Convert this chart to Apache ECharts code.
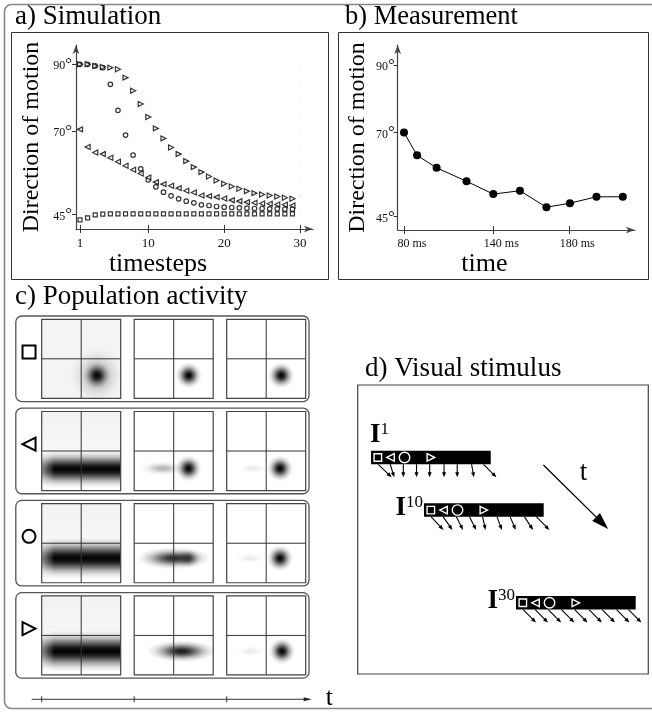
<!DOCTYPE html>
<html><head><meta charset="utf-8">
<script src="https://cdn.jsdelivr.net/npm/echarts@6/dist/echarts.min.js"></script>
<style>html,body{margin:0;padding:0;background:#fff}#c{width:652px;height:713px}</style>
</head><body><div id="c"></div>
<script>
const SERIF = "'Liberation Serif','DejaVu Serif','Times New Roman',serif";

// ---------- a) Simulation ----------
const timesteps = [1,2,3,4,5,6,7,8,9,10,11,12,13,14,15,16,17,18,19,20,21,22,23,24,25,26,27,28,29];
const simSquare   = [43.4,44.0,44.9,45.1,45.2,45.2,45.2,45.2,45.2,45.2,45.2,45.2,45.2,45.2,45.2,45.2,45.2,45.2,45.2,45.2,45.2,45.2,45.2,45.2,45.2,45.2,45.2,45.2,45.2];
const simLeftTri  = [70.5,65.2,63.6,63.1,62.0,60.8,59.6,58.4,57.3,56.1,54.7,54.1,53.6,52.9,52.1,51.6,50.7,50.5,50.2,49.8,49.3,49.0,48.7,48.5,48.3,48.2,48.0,47.9,47.7];
const simCircle   = [90.0,90.0,89.5,89.0,84.0,76.2,68.8,62.8,58.7,55.4,53.3,51.7,50.6,49.7,49.0,48.5,47.9,47.7,47.4,47.2,47.1,47.0,46.9,46.8,46.8,46.7,46.7,46.6,46.6];
const simRightTri = [90.0,90.0,89.5,89.2,89.0,88.5,86.0,82.1,78.1,74.2,70.8,67.8,65.1,63.1,61.0,59.2,57.7,56.4,55.2,54.2,53.4,52.7,52.0,51.4,51.0,50.7,50.4,50.0,49.7];
const simXTicks = [1,10,20,30];
const angleTicks = [45,70,90];

// ---------- b) Measurement ----------
const measTime  = [80,88.8,101.9,122,140,157.9,175.7,191.5,209.3,227];
const measAngle = [70,63.2,59.5,55.5,51.7,52.7,47.8,49.0,50.9,50.9];
const measTickValues = [80,140,191];
const measTickLabels = ['80','140','180'];

// ---------- c) Population activity ----------
// blob components per cell: [kind, cx, cy, rx, ry, peak]  (cell fractions; 'e' ellipse, 'b' horizontal band)
const activitySquare = [
  [['e',0.70,0.71,0.34,0.36,0.30],['e',0.70,0.71,0.17,0.17,1]],
  [['e',0.69,0.71,0.165,0.165,1]],
  [['e',0.69,0.71,0.165,0.165,1]]
];
const activityLeftTri = [
  [['b',0,0.73,0,0.24,1]],
  [['e',0.36,0.72,0.28,0.09,0.30],['e',0.687,0.72,0.165,0.165,1]],
  [['e',0.33,0.72,0.20,0.07,0.08],['e',0.675,0.72,0.165,0.165,1]]
];
const activityCircle = [
  [['b',0,0.69,0,0.26,1]],
  [['e',0.50,0.69,0.47,0.14,0.85],['e',0.685,0.69,0.15,0.12,0.6]],
  [['e',0.30,0.69,0.20,0.07,0.08],['e',0.675,0.69,0.165,0.165,1]]
];
const activityRightTri = [
  [['b',0,0.70,0,0.26,1]],
  [['e',0.60,0.70,0.44,0.14,0.9]],
  [['e',0.30,0.70,0.20,0.07,0.08],['e',0.70,0.70,0.165,0.165,1]]
];
const activityTint = [0.045,0.05,0.05,0.05];   // light grey of first column
const featureShapes = ['square','leftTri','circle','rightTri'];
const timeTicks = [0,1,2];

// ---------- d) Visual stimulus ----------
const stimFrames = ['1','10','30'];
const barLeft = [4.58,22.81,54.47];
const barTop  = [22.73,40.93,73.01];
const featurePos = [0.057,0.163,0.28,0.50];
const arrowPos = [0.06,0.16,0.27,0.38,0.49,0.61,0.72,0.84,0.94];
const arrowDx = [
  [4.6,1.4,0,0,0,0,0,0.8,4.4],
  [4.2,3.2,2.3,2.3,1.0,1.7,1.9,2.9,4.4],
  [4.4,4.4,4.4,4.4,4.4,4.4,4.4,4.4,4.4]
];
const arrowDy = 4.5;
const timeArrow = [[63.9,27.7],[86.2,49.8]];
const timeArrowLabel = [77.7,30.5];

const chart = echarts.init(document.getElementById('c'), null, {renderer:'canvas'});

function alphaStops(a){
  const p=[1,0.88,0.6,0.3,0.1,0];
  return [0,0.2,0.4,0.6,0.8,1].map((t,i)=>({offset:t,color:'rgba(0,0,0,'+(a*p[i]).toFixed(3)+')'}));
}
function bandStops(a){
  const offs=[0,0.1,0.2,0.3,0.4,0.5,0.6,0.7,0.8,0.9,1];
  const p=[0,0.1,0.3,0.6,0.88,1,0.88,0.6,0.3,0.1,0];
  return offs.map((t,i)=>({offset:t,color:'rgba(0,0,0,'+(a*p[i]).toFixed(3)+')'}));
}
function arrowHead(x1,y1,x2,y2,len,wid){
  const dx=x2-x1, dy=y2-y1, L=Math.hypot(dx,dy), ux=dx/L, uy=dy/L;
  const bx=x2-ux*len, by=y2-uy*len;
  return [[x2,y2],[bx-uy*wid/2,by+ux*wid/2],[bx+uy*wid/2,by-ux*wid/2]];
}
function featureShape(kind,cx,cy,s,color,lw){
  const h=s/2;
  if(kind==='square') return {type:'rect',shape:{x:cx-h,y:cy-h,width:s,height:s},style:{fill:'none',stroke:color,lineWidth:lw}};
  if(kind==='circle') return {type:'circle',shape:{cx:cx,cy:cy,r:h},style:{fill:'none',stroke:color,lineWidth:lw}};
  if(kind==='leftTri') return {type:'polygon',shape:{points:[[cx-h,cy],[cx+h,cy-h],[cx+h,cy+h]]},style:{fill:'none',stroke:color,lineWidth:lw}};
  return {type:'polygon',shape:{points:[[cx+h,cy],[cx-h,cy-h],[cx-h,cy+h]]},style:{fill:'none',stroke:color,lineWidth:lw}};
}

const activityRows=[activitySquare,activityLeftTri,activityCircle,activityRightTri];

function renderActivity(params, api){
  const r = api.value(0);
  const ch = [];
  const f0 = api.coord([-0.28, r]), f1 = api.coord([2.89, r+0.928]);
  ch.push({type:'rect',shape:{x:f0[0],y:f0[1],width:f1[0]-f0[0],height:f1[1]-f0[1],r:6},style:{fill:'none',stroke:'#555',lineWidth:1.3}});
  const sp = api.coord([-0.137, r+0.39]);
  ch.push(featureShape(featureShapes[r],sp[0],sp[1],13,'#000',2));
  for(let c=0;c<3;c++){
    const a = api.coord([c, r+0.036]), b = api.coord([c+0.854, r+0.893]);
    const w=b[0]-a[0], h=b[1]-a[1];
    if(c===0){
      const tint = activityTint[r];
      if(r===0) ch.push({type:'rect',shape:{x:a[0],y:a[1],width:w,height:h},style:{fill:'rgba(0,0,0,'+tint+')'}});
      else ch.push({type:'rect',shape:{x:a[0],y:a[1],width:w,height:h/2},style:{fill:new echarts.graphic.LinearGradient(0,0,0,1,[{offset:0,color:'rgba(0,0,0,'+tint+')'},{offset:1,color:'rgba(0,0,0,'+(tint*0.6)+')'}])}});
    }
    activityRows[r][c].forEach(comp=>{
      const [kind,cx,cy,rx,ry,pk]=comp;
      if(kind==='b'){
        const y0=a[1]+(cy-ry)*h, y1=a[1]+(cy+ry)*h;
        ch.push({type:'rect',shape:{x:a[0],y:y0,width:w,height:y1-y0},style:{fill:new echarts.graphic.LinearGradient(0,0,0,1,bandStops(pk))}});
        ch.push({type:'rect',shape:{x:a[0],y:y0,width:w*0.16,height:y1-y0},style:{fill:new echarts.graphic.LinearGradient(0,0,1,0,[{offset:0,color:'rgba(255,255,255,0.55)'},{offset:1,color:'rgba(255,255,255,0)'}])}});
      } else {
        ch.push({type:'circle',shape:{cx:0,cy:0,r:1},x:a[0]+cx*w,y:a[1]+cy*h,scaleX:rx*w,scaleY:ry*h,
          style:{fill:new echarts.graphic.RadialGradient(0.5,0.5,0.5,alphaStops(pk))}});
      }
    });
    ch.push({type:'line',shape:{x1:a[0]+w/2,y1:a[1],x2:a[0]+w/2,y2:b[1]},style:{stroke:'#333',lineWidth:1}});
    ch.push({type:'line',shape:{x1:a[0],y1:a[1]+h/2,x2:b[0],y2:a[1]+h/2},style:{stroke:'#333',lineWidth:1}});
    ch.push({type:'rect',shape:{x:a[0],y:a[1],width:w,height:h},style:{fill:'none',stroke:'#444',lineWidth:1.2}});
  }
  return {type:'group',children:ch};
}

function renderTimeline(params, api){
  const i = params.dataIndex;
  const ch=[];
  const p = api.coord([api.value(0), 4.157]);
  ch.push({type:'line',shape:{x1:p[0],y1:p[1]-3,x2:p[0],y2:p[1]+3},style:{stroke:'#333',lineWidth:1}});
  if(i===0){
    const s=api.coord([-0.108,4.157]), e=api.coord([2.919,4.157]);
    ch.push({type:'line',shape:{x1:s[0],y1:s[1],x2:e[0]-4,y2:e[1]},style:{stroke:'#333',lineWidth:1}});
    ch.push({type:'polygon',shape:{points:arrowHead(s[0],s[1],e[0],e[1],8,4)},style:{fill:'#222'}});
    const t=api.coord([3.11,4.157]);
    ch.push({type:'text',x:t[0],y:t[1]-1,style:{text:'t',font:'26px '+SERIF,fill:'#000',align:'center',verticalAlign:'middle'}});
  }
  return {type:'group',children:ch};
}

function renderStimulus(params, api){
  const i = params.dataIndex;
  const L = api.value(0), T = api.value(1);
  const p0 = api.coord([L, T]), p1 = api.coord([L+41.2, T+4.7]);
  const w = p1[0]-p0[0], h = p1[1]-p0[1];
  const ch=[];
  ch.push({type:'rect',shape:{x:p0[0],y:p0[1],width:w,height:h},style:{fill:'#000'}});
  featureShapes.forEach((k,j)=>{
    const cx=p0[0]+featurePos[j]*w, cy=p0[1]+h/2;
    ch.push(featureShape(k,cx,cy,k==='circle'?10.5:7.5,'#fff',1.4));
  });
  arrowPos.forEach((f,j)=>{
    const s = api.coord([L+f*41.2, T+4.7]);
    const e = api.coord([L+f*41.2+arrowDx[i][j], T+4.7+arrowDy]);
    const hd = arrowHead(s[0],s[1],e[0],e[1],5,4);
    const ux=(e[0]-s[0]), uy=(e[1]-s[1]), Lg=Math.hypot(ux,uy);
    ch.push({type:'line',shape:{x1:s[0],y1:s[1],x2:e[0]-ux/Lg*3,y2:e[1]-uy/Lg*3},style:{stroke:'#000',lineWidth:1.1}});
    ch.push({type:'polygon',shape:{points:hd},style:{fill:'#000'}});
  });
  const rich = {I:{font:'bold 27px '+SERIF,fill:'#000',lineHeight:28,verticalAlign:'bottom'},s:{font:'17px '+SERIF,fill:'#000',lineHeight:28,verticalAlign:'top'}};
  if(i===0){
    ch.push({type:'text',x:p0[0]-1,y:p0[1]-2,style:{text:'{I|I}{s|'+stimFrames[i]+'}',rich:rich,align:'left',verticalAlign:'bottom'}});
  } else {
    ch.push({type:'text',x:p0[0]-1,y:p1[1]+5,style:{text:'{I|I}{s|'+stimFrames[i]+'}',rich:rich,align:'right',verticalAlign:'bottom'}});
  }
  return {type:'group',children:ch};
}

function renderTimeArrow(params, api){
  const s = api.coord(timeArrow[0]), e = api.coord(timeArrow[1]);
  const ux=e[0]-s[0], uy=e[1]-s[1], Lg=Math.hypot(ux,uy);
  const t = api.coord(timeArrowLabel);
  return {type:'group',children:[
    {type:'line',shape:{x1:s[0],y1:s[1],x2:e[0]-ux/Lg*10,y2:e[1]-uy/Lg*10},style:{stroke:'#000',lineWidth:1.3}},
    {type:'polygon',shape:{points:arrowHead(s[0],s[1],e[0],e[1],17,11)},style:{fill:'#000'}},
    {type:'text',x:t[0],y:t[1],style:{text:'t',font:'27px '+SERIF,fill:'#000',align:'center',verticalAlign:'middle'}}
  ]};
}

const axisLineStyle = {color:'#444',width:1.2};
function degLabel(v){ return '{n|'+v+'}{d|°}'; }
const degRich = {n:{fontFamily:SERIF,fontSize:12,color:'#111',lineHeight:16,verticalAlign:'bottom'},d:{fontFamily:SERIF,fontSize:17,color:'#111',lineHeight:16,verticalAlign:'top'}};

function sc(xs,ys){ return xs.map((x,i)=>[x,ys[i]]); }
const markerStyle = {color:'#fff',borderColor:'#000',borderWidth:1.2};

const option = {
  animation:false,
  backgroundColor:'#fff',
  title:[
    {text:'a) Simulation',left:15,top:3.5,padding:0,textStyle:{fontFamily:SERIF,fontWeight:'normal',fontSize:27,color:'#000'}},
    {text:'b) Measurement',left:345,top:3.5,padding:0,textStyle:{fontFamily:SERIF,fontWeight:'normal',fontSize:26.5,color:'#000'}},
    {text:'c) Population activity',left:15,top:283,padding:0,textStyle:{fontFamily:SERIF,fontWeight:'normal',fontSize:27,color:'#000'}},
    {text:'d) Visual stimulus',left:365,top:355,padding:0,textStyle:{fontFamily:SERIF,fontWeight:'normal',fontSize:27,color:'#000'}}
  ],
  graphic:[
    {type:'rect',shape:{x:4.5,y:4.5,width:720,height:704,r:7},style:{fill:'none',stroke:'#888',lineWidth:1.6},silent:true},
    {type:'rect',shape:{x:11.5,y:32.5,width:317,height:247},style:{fill:'none',stroke:'#333',lineWidth:1},silent:true},
    {type:'rect',shape:{x:338.5,y:32.5,width:310,height:247},style:{fill:'none',stroke:'#333',lineWidth:1},silent:true}
  ],
  grid:[
    {left:76,top:45,width:237,height:184},
    {left:397.7,top:45,width:237.3,height:185},
    {left:15.8,top:316,width:296,height:389,show:false},
    {left:357.7,top:385,width:290.6,height:289,show:true,borderColor:'#444',borderWidth:1.2,backgroundColor:'transparent'}
  ],
  xAxis:[
    {gridIndex:0,type:'value',position:'bottom',min:0.47,max:31.71,
      axisLine:{show:true,onZero:false,lineStyle:axisLineStyle,symbol:['none','arrow'],symbolSize:[5,9]},
      axisTick:{show:true,length:4,customValues:simXTicks,lineStyle:{color:'#333'}},
      axisLabel:{customValues:simXTicks,margin:8,fontFamily:SERIF,fontSize:13,color:'#111'},
      splitLine:{show:false},
      name:'timesteps',nameLocation:'middle',nameGap:20,nameTextStyle:{fontFamily:SERIF,fontSize:26,color:'#000',verticalAlign:'top',padding:[0,73,0,0]}},
    {gridIndex:0,type:'value',position:'bottom',min:0.47,max:31.71,axisLine:{show:false,onZero:false},axisLabel:{show:false},splitLine:{show:false},
      axisTick:{show:true,inside:true,length:4,customValues:simXTicks,lineStyle:{color:'#333'}}},
    {gridIndex:1,type:'value',position:'bottom',min:75.77,max:235.2,
      axisLine:{show:true,onZero:false,lineStyle:axisLineStyle,symbol:['none','arrow'],symbolSize:[5,9]},
      axisTick:{show:true,length:4,customValues:measTickValues,lineStyle:{color:'#333'}},
      axisLabel:{customValues:measTickValues,margin:8,formatter:(v)=>{const i=measTickValues.indexOf(v);return '{p|}{n|'+measTickLabels[i]+'}{u| ms}';},
        rich:{p:{width:16},n:{fontFamily:SERIF,fontSize:12,color:'#111'},u:{fontFamily:SERIF,fontSize:12,color:'#111'}}},
      splitLine:{show:false},
      name:'time',nameLocation:'middle',nameGap:20,nameTextStyle:{fontFamily:SERIF,fontSize:26,color:'#000',verticalAlign:'top',padding:[0,64,0,0]}},
    {gridIndex:1,type:'value',position:'bottom',min:75.77,max:235.2,axisLine:{show:false,onZero:false},axisLabel:{show:false},splitLine:{show:false},
      axisTick:{show:true,inside:true,length:4,customValues:measTickValues,lineStyle:{color:'#333'}}},
    {gridIndex:2,type:'value',min:-0.28,max:2.92,show:false},
    {gridIndex:3,type:'value',min:0,max:100,show:false}
  ],
  yAxis:[
    {gridIndex:0,type:'value',min:40.66,max:95.78,
      axisLine:{show:true,onZero:false,lineStyle:axisLineStyle,symbol:['none','arrow'],symbolSize:[5,9]},
      axisTick:{show:true,length:4,customValues:angleTicks,lineStyle:{color:'#333'}},
      axisLabel:{customValues:angleTicks,margin:4,formatter:degLabel,rich:degRich},
      splitLine:{show:false},
      name:'Direction of motion',nameLocation:'middle',nameRotate:90,nameGap:32,nameTextStyle:{fontFamily:SERIF,fontSize:24,color:'#000'}},
    {gridIndex:1,type:'value',min:41.05,max:95.93,
      axisLine:{show:true,onZero:false,lineStyle:axisLineStyle,symbol:['none','arrow'],symbolSize:[5,9]},
      axisTick:{show:true,length:4,customValues:angleTicks,lineStyle:{color:'#333'}},
      axisLabel:{customValues:angleTicks,margin:3,formatter:degLabel,rich:degRich},
      splitLine:{show:false},
      name:'Direction of motion',nameLocation:'middle',nameRotate:90,nameGap:27.5,nameTextStyle:{fontFamily:SERIF,fontSize:24,color:'#000'}},
    {gridIndex:2,type:'value',min:0,max:4.219,inverse:true,show:false},
    {gridIndex:3,type:'value',min:0,max:100,inverse:true,show:false}
  ],
  series:[
    {type:'scatter',xAxisIndex:0,yAxisIndex:0,data:sc(timesteps,simSquare),symbol:'rect',symbolSize:4,itemStyle:markerStyle,
      markLine:{silent:true,symbol:'none',label:{show:false},lineStyle:{color:'#ccc',type:[1,15],width:1},data:[[{coord:[30,89]},{coord:[30,45]}]]}},
    {type:'scatter',xAxisIndex:0,yAxisIndex:0,data:sc(timesteps,simCircle),symbol:'circle',symbolSize:4.5,itemStyle:markerStyle},
    {type:'scatter',xAxisIndex:0,yAxisIndex:0,data:sc(timesteps,simLeftTri),symbol:'triangle',symbolRotate:90,symbolSize:5,itemStyle:markerStyle},
    {type:'scatter',xAxisIndex:0,yAxisIndex:0,data:sc(timesteps,simRightTri),symbol:'triangle',symbolRotate:-90,symbolSize:5,itemStyle:markerStyle},
    {type:'line',xAxisIndex:2,yAxisIndex:1,data:sc(measTime,measAngle),symbol:'circle',symbolSize:8,showSymbol:true,
      itemStyle:{color:'#000'},lineStyle:{color:'#000',width:1}},
    {type:'custom',xAxisIndex:4,yAxisIndex:2,data:[[0],[1],[2],[3]],renderItem:renderActivity},
    {type:'custom',xAxisIndex:4,yAxisIndex:2,data:timeTicks.map(t=>[t]),renderItem:renderTimeline},
    {type:'custom',xAxisIndex:5,yAxisIndex:3,data:barLeft.map((x,i)=>[x,barTop[i]]),renderItem:renderStimulus},
    {type:'custom',xAxisIndex:5,yAxisIndex:3,data:[[0]],renderItem:renderTimeArrow}
  ]
};
chart.setOption(option);
</script></body></html>
